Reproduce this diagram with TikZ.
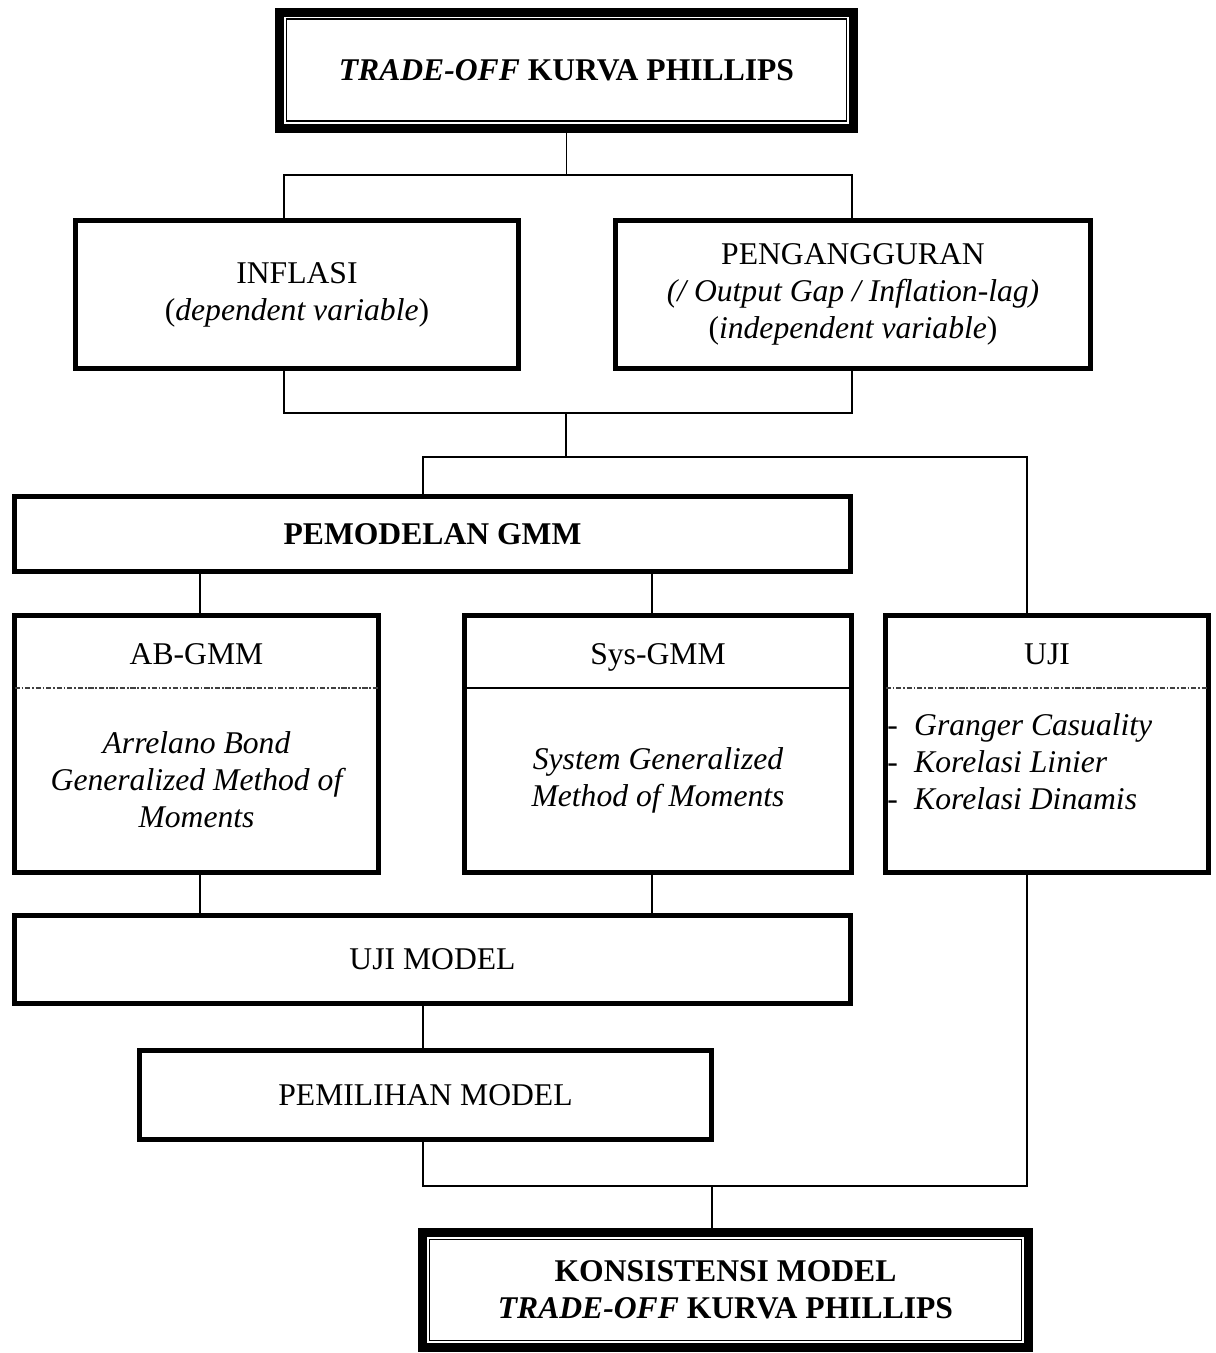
\documentclass[tikz,border=0pt]{standalone}
\usepackage{fontspec}
\setmainfont{Liberation Serif}
\usepackage{tikz}
\pgfmathsetmacro{\pxlen}{0.02cm}
\pgfmathsetmacro{\boxlw}{5.5*\pxlen}
\pgfmathsetmacro{\headlw}{9*\pxlen}
\tikzset{
  box/.style={draw, line width=\boxlw pt, outer sep=0pt, inner sep=0pt, align=center,
    font=\fontsize{18}{21}\selectfont},
  headbox/.style={box, line width=\headlw pt, font=\fontsize{18}{21}\selectfont\bfseries},
  txt/.style={inner sep=0pt, align=center, font=\fontsize{18}{21}\selectfont},
  link/.style={line width=1.1pt},
  divdot/.style={line width=0.6pt, black!75, dash pattern=on 3pt off 1pt on 1pt off 1pt},
  divsolid/.style={line width=1pt},
}

\begin{document}
\begin{tikzpicture}[x=0.02cm, y=-0.02cm]
    \useasboundingbox (0,0) rectangle (1215,1353);
    % define boxes
    % head
    \node[headbox, minimum width=574*\pxlen, minimum height=116*\pxlen] (top) at (566.5,70)
        {\textit{TRADE-OFF} KURVA PHILLIPS};
    % variables
    \node[box, minimum width=443*\pxlen, minimum height=148*\pxlen] (inflasi) at (297,294.5)
        {INFLASI\\(\textit{dependent variable})};
    \node[box, minimum width=475*\pxlen, minimum height=148*\pxlen] (peng) at (853,294.5)
        {PENGANGGURAN\\\textit{(/ Output Gap / Inflation-lag)}\\(\textit{independent variable})};
    % gmm
    \node[box, minimum width=836*\pxlen, minimum height=75*\pxlen, font=\fontsize{18}{21}\selectfont\bfseries]
        (pemodelan) at (432.5,534) {PEMODELAN GMM};
    \node[box, minimum width=364*\pxlen, minimum height=257*\pxlen] (ab) at (196.5,744) {};
    \node[box, minimum width=387*\pxlen, minimum height=257*\pxlen] (sys) at (658,744) {};
    \node[box, minimum width=323*\pxlen, minimum height=257*\pxlen] (uji) at (1047,744) {};
    \node[txt, anchor=base] (ab_title) at (196.5,664) {AB-GMM};
    \node[txt, font=\fontsize{18}{21}\selectfont\itshape] (ab_body) at (196.5,780)
        {Arrelano Bond\\Generalized Method of\\Moments};
    \node[txt, anchor=base] (sys_title) at (658,664) {Sys-GMM};
    \node[txt, font=\fontsize{18}{21}\selectfont\itshape] (sys_body) at (658,780)
        {System Generalized\\Method of Moments};
    \node[txt, anchor=base] (uji_title) at (1047,664) {UJI};
    \node[txt, anchor=west, align=left] (uji_body) at (887,762)
        {\makebox[0.85em][l]{-}\textit{Granger Casuality}\\
         \makebox[0.85em][l]{-}\textit{Korelasi Linier}\\
         \makebox[0.85em][l]{-}\textit{Korelasi Dinamis}};
    % model
    \node[box, minimum width=836*\pxlen, minimum height=88*\pxlen] (ujimodel) at (432.5,959.5) {UJI MODEL};
    \node[box, minimum width=572*\pxlen, minimum height=89*\pxlen] (pemilihan) at (425.5,1095) {PEMILIHAN MODEL};
    % result
    \node[headbox, minimum width=606*\pxlen, minimum height=115*\pxlen] (final) at (725.5,1290)
        {KONSISTENSI MODEL\\\textit{TRADE-OFF} KURVA PHILLIPS};
    % inner frames of the head boxes
    \draw[line width=1pt] ([shift={(7,7)}]top.north west) rectangle ([shift={(-7,-7)}]top.south east);
    \draw[line width=1pt] ([shift={(7,7)}]final.north west) rectangle ([shift={(-7,-7)}]final.south east);
    % dividers
    \coordinate (div_line) at (0,688);
    \draw[divdot] (ab.west |- div_line) -- (ab.east |- div_line);
    \draw[divsolid] (sys.west |- div_line) -- (sys.east |- div_line);
    \draw[divdot] (uji.west |- div_line) -- (uji.east |- div_line);
    % define junctions
    \coordinate (var_left) at (284,175);
    \coordinate (var_right) at (852,175);
    \coordinate (join_left) at (284,413);
    \coordinate (join_right) at (852,413);
    \coordinate (join_mid) at (566,413);
    \coordinate (split_gmm) at (423,457);
    \coordinate (split_uji) at (1027,457);
    \coordinate (col_ab) at (200,0);
    \coordinate (col_sys) at (652,0);
    \coordinate (join_pm) at (423,1186);
    \coordinate (join_uji) at (1027,1186);
    \coordinate (join_end) at (712,1186);
    % draw connectors
    \draw[link] (top.south) -- (top.south |- var_left);
    \draw[link] (inflasi.north -| var_left) -- (var_left) -- (var_right) -- (peng.north -| var_right);
    \draw[link] (inflasi.south -| join_left) -- (join_left) -- (join_right) -- (peng.south -| join_right);
    \draw[link] (join_mid) -- (join_mid |- split_gmm);
    \draw[link] (pemodelan.north -| split_gmm) -- (split_gmm) -- (split_uji) -- (uji.north -| split_uji);
    \draw[link] (pemodelan.south -| col_ab) -- (ab.north -| col_ab);
    \draw[link] (pemodelan.south -| col_sys) -- (sys.north -| col_sys);
    \draw[link] (ab.south -| col_ab) -- (ujimodel.north -| col_ab);
    \draw[link] (sys.south -| col_sys) -- (ujimodel.north -| col_sys);
    \draw[link] (ujimodel.south -| split_gmm) -- (pemilihan.north -| split_gmm);
    \draw[link] (pemilihan.south -| join_pm) -- (join_pm) -- (join_uji) -- (uji.south -| join_uji);
    \draw[link] (join_end) -- (final.north -| join_end);
\end{tikzpicture}
\end{document}
